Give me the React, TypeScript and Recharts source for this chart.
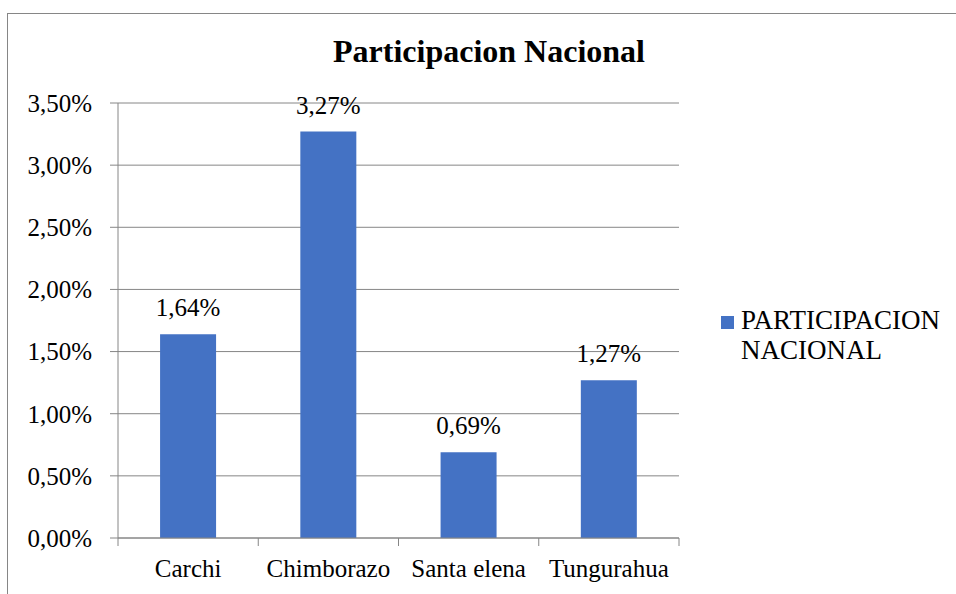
import { BarChart, Bar, XAxis, YAxis, CartesianGrid, LabelList, Legend } from "recharts";

const provincias = ["Carchi", "Chimborazo", "Santa elena", "Tungurahua"];
const participacion = [1.64, 3.27, 0.69, 1.27];
const yTicks = [0, 0.5, 1, 1.5, 2, 2.5, 3, 3.5];

const SERIE = "PARTICIPACION NACIONAL";
const FONT = '"Liberation Serif", "Times New Roman", serif';
const GRID = "#868686";
const BLUE = "#4472C4";

const data = provincias.map((name, i) => ({ name, value: participacion[i] }));

const pct = (v: number) => `${v.toFixed(2).replace(".", ",")}%`;

// category label at the centre, tick marks on the band boundaries
function CategoryTick(props: any) {
  const { x, y, payload, index, visibleTicksCount } = props;
  const half = payload.offset ?? 0;
  const axisY = y - 21;
  const last = index === visibleTicksCount - 1;
  return (
    <g>
      <line x1={x - half} x2={x - half} y1={axisY} y2={axisY + 8} stroke={GRID} />
      {last && <line x1={x + half} x2={x + half} y1={axisY} y2={axisY + 8} stroke={GRID} />}
      <text x={x} y={y} dy="0.71em" textAnchor="middle" fill="#000" fontSize={25} fontFamily={FONT}>
        {payload.value}
      </text>
    </g>
  );
}

function LegendBox(props: any) {
  const item = props.payload?.[0];
  if (!item) return null;
  return (
    <div style={{ display: "flex", alignItems: "flex-start", fontFamily: FONT, fontSize: 27, lineHeight: "30px", color: "#000", textAlign: "left" }}>
      <span style={{ width: 13, height: 13, background: item.color, marginTop: 11, marginRight: 7, flex: "none" }} />
      <span style={{ width: 212 }}>{item.value}</span>
    </div>
  );
}

export default function App() {
  return (
    <div style={{ position: "absolute", left: 0, top: 0, width: 956, height: 594, background: "#fff", overflow: "hidden" }}>
      <div style={{ position: "absolute", left: 7, top: 13, width: 980, height: 620, border: `1px solid ${GRID}` }} />
      <div
        style={{
          position: "absolute",
          left: 0,
          width: 978,
          top: 33,
          textAlign: "center",
          fontFamily: FONT,
          fontWeight: "bold",
          fontSize: 32,
          lineHeight: "36px",
          color: "#000",
        }}
      >
        Participacion Nacional
      </div>
      <BarChart
        width={956}
        height={594}
        data={data}
        margin={{ top: 103, right: 277, bottom: 0, left: 8 }}
        barCategoryGap="30%"
        style={{ position: "absolute", left: 0, top: 0 }}
      >
        <CartesianGrid vertical={false} stroke={GRID} />
        <XAxis
          dataKey="name"
          height={56}
          axisLine={{ stroke: GRID }}
          tickLine={false}
          tickSize={8}
          tickMargin={13}
          tick={<CategoryTick />}
          interval={0}
        />
        <YAxis
          width={110}
          domain={[0, 3.5]}
          ticks={yTicks}
          tickFormatter={pct}
          axisLine={{ stroke: GRID }}
          tickLine={{ stroke: GRID }}
          tickSize={8}
          tickMargin={18}
          tick={{ fill: "#000", fontSize: 25, fontFamily: FONT }}
        />
        <Legend
          layout="horizontal"
          align="center"
          verticalAlign="middle"
          content={<LegendBox />}
          wrapperStyle={{ left: 721, top: 305, width: 235 }}
        />
        <Bar dataKey="value" name={SERIE} fill={BLUE} isAnimationActive={false}>
          <LabelList
            dataKey="value"
            position="top"
            offset={18}
            formatter={(v: any) => pct(Number(v))}
            fill="#000"
            fontSize={25}
            fontFamily={FONT}
          />
        </Bar>
      </BarChart>
    </div>
  );
}
